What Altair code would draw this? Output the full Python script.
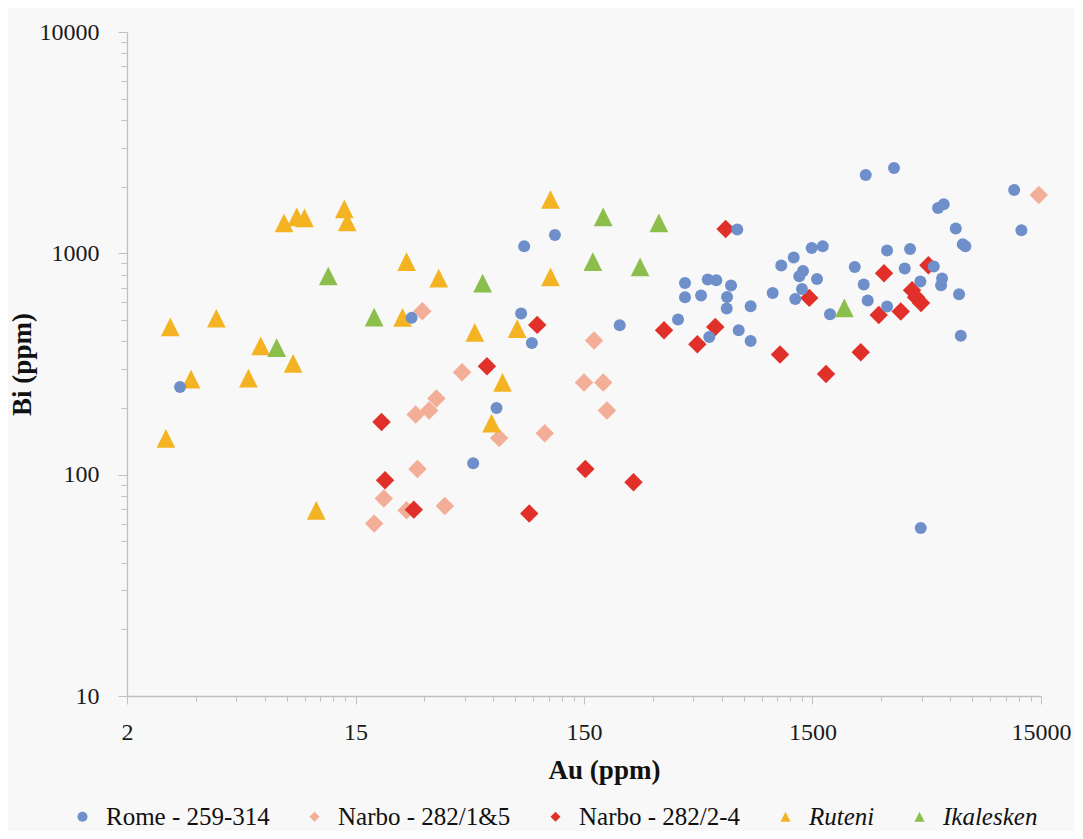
import altair as alt
import pandas as pd

# ---------------- data ----------------
series_names = ["Rome - 259-314", "Narbo - 282/1&5", "Narbo - 282/2-4", "Ruteni", "Ikalesken"]
series_colors = ["#6F8FCA", "#F3AE97", "#E1302A", "#F4B323", "#8CBE4C"]

rome_au = [2.56, 26.4, 82.1, 111.9, 79.6, 88.7, 62.1, 49.1, 215, 703,
           415, 415, 488, 522, 569, 660, 634, 632, 804, 387,
           530, 713, 804, 1004, 1095, 1241, 1488, 1663, 1363, 1313,
           1570, 1349, 1261, 1789, 2565, 3411, 11440, 12310, 5316, 5628,
           6356, 6818, 7000, 2296, 3180, 4009, 3800, 5091, 2514, 4447,
           5535, 5479, 6569, 2617, 3180, 6683, 4465]
rome_bi = [249, 511, 1077, 1211, 535, 393, 200, 112.6, 473, 1281,
           735, 633, 645, 761, 756, 715, 635, 563, 577, 502,
           419, 449, 402, 662, 881, 957, 1058, 1077, 833, 788,
           766, 690, 622, 531, 2261, 2432, 1934, 1272, 1604, 1667,
           1295, 1100, 1077, 868, 1030, 1047, 854, 872, 723, 746,
           769, 718, 654, 612, 575, 424, 57.4]

narbo15_au = [29.4, 43.9, 33.9, 31.5, 27.5, 63.8, 101, 28.0, 19.95, 25.1,
              36.9, 18.1, 166, 150, 182, 189, 14670]
narbo15_bi = [547, 290, 221, 195, 187, 146.5, 153.8, 106, 78.0, 69.0,
              72.2, 60.1, 404, 261, 261, 195, 1836]

narbo24_au = [93.6, 56.4, 19.5, 20.2, 27.0, 86.4, 152, 625, 336, 563,
              470, 1081, 1719, 1452, 247, 3084, 4822, 4090, 4259, 4478,
              2924, 3650, 2439]
narbo24_bi = [475, 309, 173, 94.3, 69.5, 66.7, 106, 1289, 449, 465,
              388, 349, 285, 629, 92.4, 813, 884, 681, 633, 597,
              527, 546, 357]

ruteni_au = [7.30, 8.30, 8.97, 13.4, 13.8, 2.32, 3.69, 5.77, 8.00, 2.86,
             5.10, 2.22, 10.1, 107, 25.1, 34.7, 24.1, 49.9, 76.5, 107,
             66.0, 59.1]
ruteni_bi = [1372, 1460, 1445, 1587, 1387, 465, 509, 382, 318, 270,
             273, 146, 69.0, 1751, 918, 772, 514, 439, 457, 782,
             261, 171]

ikalesken_au = [11.4, 6.78, 18.1, 54.0, 182, 164, 319, 264, 2067]
ikalesken_bi = [790, 375, 515, 733, 1460, 918, 1372, 868, 567]

x_major = [1.5, 15, 150, 1500, 15000]
x_major_labels = ["2", "15", "150", "1500", "15000"]
y_major = [10, 100, 1000, 10000]
y_major_labels = ["10", "100", "1000", "10000"]
minor_steps = [2, 3, 4, 5, 6, 7, 8, 9]

# ---------------- table ----------------
series_data = [
    (series_names[0], rome_au, rome_bi),
    (series_names[1], narbo15_au, narbo15_bi),
    (series_names[2], narbo24_au, narbo24_bi),
    (series_names[3], ruteni_au, ruteni_bi),
    (series_names[4], ikalesken_au, ikalesken_bi),
]
rows = []
for name, au, bi in series_data:
    for a, b in zip(au, bi):
        rows.append({"Series": name, "Au": a, "Bi": b})
df = pd.DataFrame(rows)

x_minor = [round(m * k, 4) for m in x_major[:-1] for k in minor_steps]
y_minor = [m * k for m in y_major[:-1] for k in minor_steps]


def label_expr(vals, labels):
    parts = " : ".join(f"datum.value == {v} ? '{l}'" for v, l in zip(vals, labels))
    return parts + " : ''"


def major_test(vals):
    return "indexof([" + ",".join(str(v) for v in vals) + "], datum.value) >= 0"


FONT = "Liberation Serif"
LABEL_FONT = "Liberation Serif, DejaVu Serif, serif"
AXIS_GREY = "#c4bfbf"

x_axis = alt.Axis(
    values=x_major + x_minor,
    labelExpr=label_expr(x_major, x_major_labels),
    tickSize={"condition": {"test": major_test(x_major), "value": 8}, "value": 5},
    tickColor=AXIS_GREY, domainColor=AXIS_GREY, tickWidth=1, domainWidth=1.3,
    labelFont=LABEL_FONT, labelFontSize=24, labelColor="#1a1a1a", labelPadding=16,
    labelFlush=False, labelOverlap=False, grid=False,
    title="Au (ppm)", titleFont=FONT, titleFontSize=27, titleFontWeight="bold",
    titleColor="#111111", titleX=477, titleY=82, titleBaseline="alphabetic",
    titleAlign="center",
)
y_axis = alt.Axis(
    values=y_major + y_minor,
    labelExpr=label_expr(y_major, y_major_labels),
    tickSize={"condition": {"test": major_test(y_major), "value": 9}, "value": 6},
    tickColor=AXIS_GREY, domainColor=AXIS_GREY, tickWidth=1, domainWidth=1.3,
    labelFont=LABEL_FONT, labelFontSize=24, labelColor="#1a1a1a", labelPadding=19,
    labelFlush=False, labelOverlap=False, grid=False,
    title="Bi (ppm)", titleFont=FONT, titleFontSize=27, titleFontWeight="bold",
    titleColor="#111111", titleX=-91, titleY=332, titleBaseline="bottom",
    titleAlign="center", titleAngle=270,
)

tri_path = "M0,-1L1,1L-1,1Z"
shape_range = ["circle", "diamond", "diamond", tri_path, tri_path]

legend = alt.Legend(
    orient="none", legendX=-57, legendY=772, direction="horizontal", columns=5,
    title=None, labelFont=LABEL_FONT, labelFontSize=25, labelColor="#111111",
    labelFontStyle=alt.ExprRef(expr="datum.label == 'Ruteni' || datum.label == 'Ikalesken' ? 'italic' : 'normal'"),
    symbolSize=100, symbolStrokeWidth=0, labelOffset=11, columnPadding=32,
    labelLimit=400,
)

base = alt.Chart(df).encode(
    x=alt.X("Au:Q", scale=alt.Scale(type="log", domain=[1.5, 15000], nice=False), axis=x_axis),
    y=alt.Y("Bi:Q", scale=alt.Scale(type="log", domain=[10, 10000], nice=False), axis=y_axis),
    color=alt.Color("Series:N", scale=alt.Scale(domain=series_names, range=series_colors), legend=legend),
    shape=alt.Shape("Series:N", scale=alt.Scale(domain=series_names, range=shape_range), legend=legend),
)

draw_order = [(series_names[1], 340), (series_names[2], 340), (series_names[3], 350),
              (series_names[4], 350), (series_names[0], 144)]
layers = [
    base.transform_filter(alt.datum.Series == name).mark_point(
        filled=True, size=sz, opacity=1, strokeWidth=0)
    for name, sz in draw_order
]

chart = alt.layer(*layers).properties(
    width=914, height=664,
    autosize=alt.AutoSizeParams(type="none"),
    padding={"left": 119, "top": 24, "right": 33, "bottom": 135},
    background="#f8f8f8",
).configure_view(strokeWidth=0)

chart.save("out.html", embed_options={"renderer": "svg", "actions": False})
